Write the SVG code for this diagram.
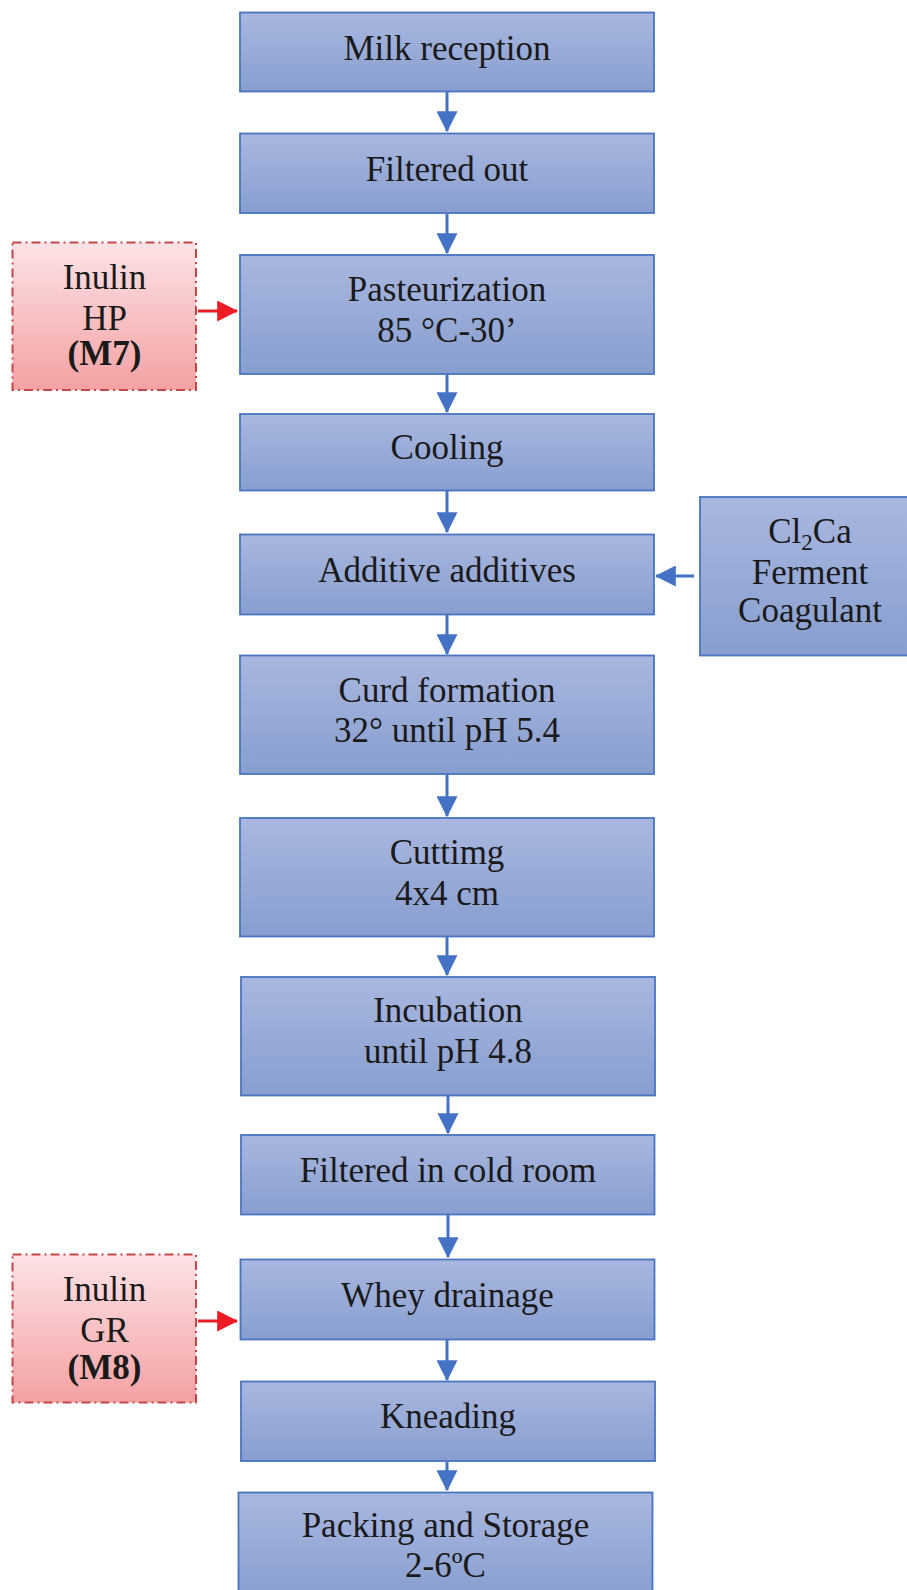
<svg xmlns="http://www.w3.org/2000/svg" width="907" height="1590" viewBox="0 0 907 1590">
<defs>
<linearGradient id="gb" x1="0" y1="0" x2="0" y2="1">
<stop offset="0" stop-color="#a9b7e0"/>
<stop offset="1" stop-color="#889ecf"/>
</linearGradient>
<linearGradient id="gp" x1="0" y1="0" x2="0" y2="1">
<stop offset="0" stop-color="#fde3e6"/>
<stop offset="1" stop-color="#f4a1a3"/>
</linearGradient>
<marker id="ab" markerWidth="7" markerHeight="7" refX="6.6" refY="3.5" orient="auto" markerUnits="strokeWidth">
<path d="M0,0 L7,3.5 L0,7 Z" fill="#4472c4"/>
</marker>
<marker id="ar" markerWidth="7" markerHeight="7" refX="6.6" refY="3.5" orient="auto" markerUnits="strokeWidth">
<path d="M0,0 L7,3.5 L0,7 Z" fill="#ee1c24"/>
</marker>
<style>
.b{fill:url(#gb);stroke:#4a74c2;stroke-width:1.8}
.p{fill:url(#gp);stroke:#c4474a;stroke-width:2;stroke-dasharray:9 4 2 4}
.t{font-family:"Liberation Serif","Times New Roman",serif;font-size:35px;fill:#1a1a1a;text-anchor:middle}
.bd{font-weight:bold}
.cb{fill:none;stroke:#4472c4;stroke-width:3;marker-end:url(#ab)}
.cr{fill:none;stroke:#ee1c24;stroke-width:3;marker-end:url(#ar)}
</style>
</defs>
<rect width="907" height="1590" fill="#ffffff"/>

<g id="connectors">
<line class="cb" x1="447" y1="92" x2="447" y2="131"/>
<line class="cb" x1="447" y1="214" x2="447" y2="253"/>
<line class="cb" x1="447" y1="375" x2="447" y2="412"/>
<line class="cb" x1="447" y1="491" x2="447" y2="532"/>
<line class="cb" x1="447" y1="615" x2="447" y2="654"/>
<line class="cb" x1="447" y1="775" x2="447" y2="816"/>
<line class="cb" x1="447" y1="937" x2="447" y2="975"/>
<line class="cb" x1="448" y1="1096" x2="448" y2="1133"/>
<line class="cb" x1="448" y1="1215" x2="448" y2="1257"/>
<line class="cb" x1="447" y1="1340" x2="447" y2="1380"/>
<line class="cb" x1="447" y1="1462" x2="447" y2="1490"/>
<line class="cb" x1="694" y1="576" x2="656" y2="576"/>
<line class="cr" x1="198" y1="311" x2="237" y2="311"/>
<line class="cr" x1="198" y1="1321" x2="237" y2="1321"/>
</g>

<g id="milk-reception">
<rect class="b" x="240" y="12.5" width="414" height="79"/>
<text class="t" x="447" y="59.5">Milk reception</text>
</g>
<g id="filtered-out">
<rect class="b" x="240" y="133.5" width="414" height="79.5"/>
<text class="t" x="447" y="180.5">Filtered out</text>
</g>
<g id="pasteurization">
<rect class="b" x="240" y="255" width="414" height="119"/>
<text class="t" x="447" y="301">Pasteurization</text>
<text class="t" x="447" y="342">85 °C-30’</text>
</g>
<g id="inulin-hp">
<rect class="p" x="12.5" y="242.5" width="183.5" height="147.5"/>
<text class="t" x="104.5" y="288.5">Inulin</text>
<text class="t" x="104.5" y="329.5">HP</text>
<text class="t bd" x="104.5" y="365">(M7)</text>
</g>
<g id="cooling">
<rect class="b" x="240" y="414" width="414" height="76.5"/>
<text class="t" x="447" y="459">Cooling</text>
</g>
<g id="additive-additives">
<rect class="b" x="240" y="534.5" width="414" height="80"/>
<text class="t" x="447" y="581.5">Additive additives</text>
</g>
<g id="cl2ca-ferment-coagulant">
<rect class="b" x="700" y="497" width="222" height="158.5"/>
<text class="t" x="810" y="543">Cl<tspan font-size="23" dy="7">2</tspan><tspan dy="-7">Ca</tspan></text>
<text class="t" x="810" y="583.5">Ferment</text>
<text class="t" x="810" y="622">Coagulant</text>
</g>
<g id="curd-formation">
<rect class="b" x="240" y="655.5" width="414" height="118.5"/>
<text class="t" x="447" y="701.5">Curd formation</text>
<text class="t" x="447" y="742">32° until pH 5.4</text>
</g>
<g id="cutting">
<rect class="b" x="240" y="818" width="414" height="118.5"/>
<text class="t" x="447" y="864">Cuttimg</text>
<text class="t" x="447" y="904.5">4x4 cm</text>
</g>
<g id="incubation">
<rect class="b" x="241" y="977" width="414" height="118.5"/>
<text class="t" x="448" y="1022">Incubation</text>
<text class="t" x="448" y="1063">until pH 4.8</text>
</g>
<g id="filtered-cold-room">
<rect class="b" x="241" y="1135" width="413.5" height="79.5"/>
<text class="t" x="448" y="1182">Filtered in cold room</text>
</g>
<g id="whey-drainage">
<rect class="b" x="240.5" y="1259.5" width="414" height="80"/>
<text class="t" x="447.5" y="1306.5">Whey drainage</text>
</g>
<g id="inulin-gr">
<rect class="p" x="12.5" y="1254.5" width="183.5" height="148"/>
<text class="t" x="104.5" y="1301">Inulin</text>
<text class="t" x="104.5" y="1342">GR</text>
<text class="t bd" x="104.5" y="1378.5">(M8)</text>
</g>
<g id="kneading">
<rect class="b" x="241" y="1381.5" width="414" height="79.5"/>
<text class="t" x="448" y="1428">Kneading</text>
</g>
<g id="packing-storage">
<rect class="b" x="238.5" y="1492.5" width="414" height="110"/>
<text class="t" x="445.5" y="1537">Packing and Storage</text>
<text class="t" x="445.5" y="1577">2-6ºC</text>
</g>
</svg>
